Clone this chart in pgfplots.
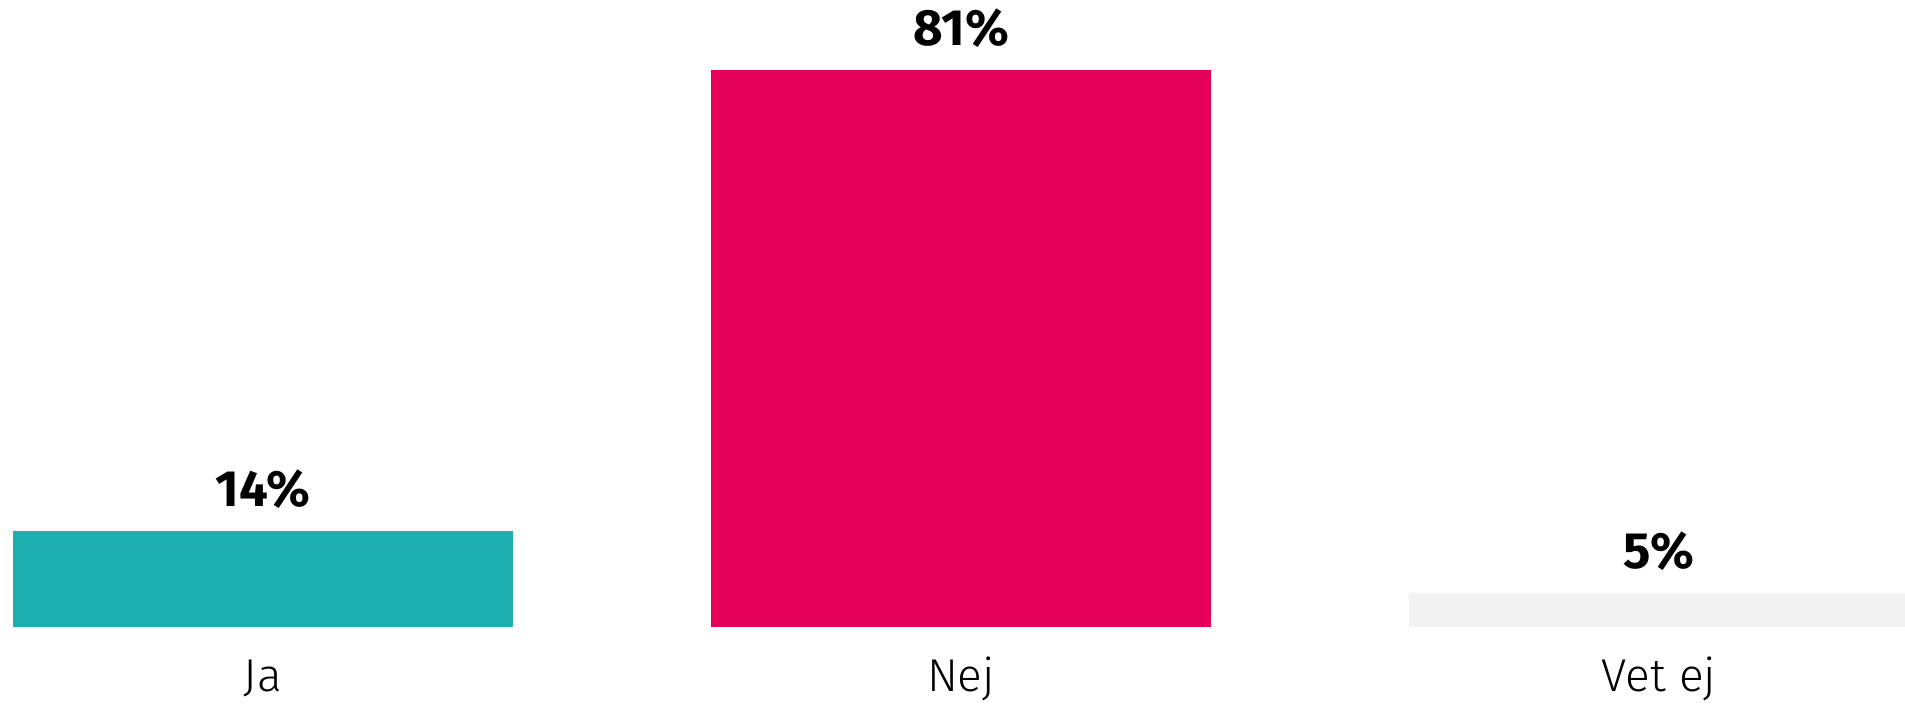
\documentclass[border=0pt]{standalone}
\usepackage{pgfplots}
\pgfplotsset{compat=1.18}
\usepackage{fontspec}
\setmainfont{Fira Sans}
\newfontfamily\lightfont{Fira Sans Light}
\definecolor{cteal}{HTML}{1DAFAF}
\definecolor{cpink}{HTML}{E5005A}
\definecolor{cgray}{HTML}{F2F2F2}
\begin{document}
\begin{tikzpicture}
\useasboundingbox (0,0) rectangle (952.5pt,351.5pt);
\begin{axis}[
 at={(0pt,38pt)}, anchor=south west,
 scale only axis, width=952.5pt, height=313.5pt,
 xmin=-0.3768, xmax=2.3524, ymin=0, ymax=91.18,
 axis line style={draw=none}, major tick style={draw=none},
 ytick=\empty, xtick={0,1,2}, xticklabels={Ja,Nej,Vet ej},
 xticklabel style={anchor=base, yshift=-28pt, font=\lightfont\fontsize{23}{27}\selectfont},
 ybar, bar width=250pt, bar shift=0pt,
 /pgf/number format/assume math mode=true,
 nodes near coords={\pgfmathprintnumber{\pgfplotspointmeta}\%},
 every node near coord/.append style={anchor=base, yshift=12pt, font=\bfseries\fontsize{25.5}{30}\selectfont},
 clip=false,
]
\addplot[fill=cteal, draw=none] coordinates {(0,14)};
\addplot[fill=cpink, draw=none] coordinates {(1,81)};
\addplot[fill=cgray, draw=none] coordinates {(2,5)};
\end{axis}
\end{tikzpicture}
\end{document}
